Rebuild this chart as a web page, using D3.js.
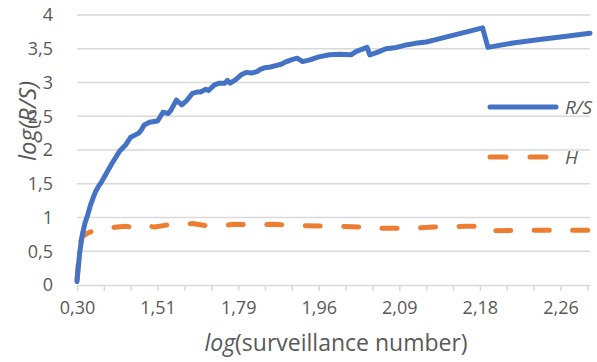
<!DOCTYPE html>
<html lang="en">
<head>
<meta charset="utf-8">
<title>log(R/S) vs log(surveillance number)</title>
<script src="https://cdn.jsdelivr.net/npm/d3@7"></script>
<style>
  body { margin: 0; background: #fff; }
  text { font-family: "Open Sans", "Liberation Sans", sans-serif; fill: #595959; }
</style>
</head>
<body>
<script>
/* categories are surveillance numbers; the x axis shows log10 of them */
var firstN = 2, lastN = 193;
var tickN = [2, 12, 22, 32, 42, 52, 62, 72, 82, 92, 102, 112, 122, 132, 142, 152, 162, 172, 182, 192];
var xLabelN = [2, 32, 62, 92, 122, 152, 182];
var xLabels = ["0,30", "1,51", "1,79", "1,96", "2,09", "2,18", "2,26"];
var yTicks = [0, 0.5, 1, 1.5, 2, 2.5, 3, 3.5, 4];
var yLabels = ["0", "0,5", "1", "1,5", "2", "2,5", "3", "3,5", "4"];

/* R/S series */
var rsN = [2, 3, 4, 5, 6, 7, 8, 9, 10, 11, 13, 15, 18, 20, 22, 25, 26, 27, 29, 32, 34, 36, 37, 39,
           41, 43, 45, 47, 48, 50, 51, 53, 55, 57, 58, 59, 61, 63, 65, 67, 69, 70, 72, 74,
           76, 78, 80, 82, 84, 86, 89, 92, 96, 100, 104, 106, 110, 111, 114, 117, 121, 125, 128, 132,
           136, 140, 146, 153, 155, 165, 175, 185, 193];
var rsVal = [0.05, 0.48, 0.75, 0.92, 1.04, 1.18, 1.29, 1.39, 1.46, 1.52, 1.66, 1.80, 1.99, 2.07, 2.19, 2.25, 2.30, 2.37, 2.41, 2.43, 2.56, 2.54, 2.59, 2.74,
             2.67, 2.74, 2.84, 2.86, 2.86, 2.90, 2.88, 2.96, 2.99, 2.99, 3.03, 2.99, 3.04, 3.11, 3.15, 3.14, 3.16, 3.19, 3.22, 3.23,
             3.25, 3.27, 3.31, 3.34, 3.36, 3.31, 3.34, 3.38, 3.41, 3.42, 3.41, 3.46, 3.52, 3.41, 3.45, 3.50, 3.52, 3.56, 3.58, 3.60,
             3.64, 3.68, 3.74, 3.81, 3.52, 3.59, 3.64, 3.69, 3.73];

/* H series */
var hN = [2, 3, 4, 6, 8, 10, 17, 20, 22, 24, 31, 34, 37, 45, 50, 55, 60, 70, 75, 85,
          100, 107, 111, 115, 125, 135, 147, 153, 155, 165, 193];
var hVal = [0.08, 0.60, 0.72, 0.77, 0.80, 0.82, 0.86, 0.87, 0.86, 0.89, 0.86, 0.88, 0.90, 0.91, 0.88, 0.87, 0.90, 0.89, 0.90, 0.88,
            0.87, 0.86, 0.83, 0.84, 0.84, 0.86, 0.87, 0.87, 0.80, 0.81, 0.81];

var seriesNames = ["R/S", "H"];
var colors = ["#4472C4", "#ED7D31"];

var W = 597, H = 362;
var margin = {top: 15, right: 7, bottom: 77, left: 77};
var width = W - margin.left - margin.right;
var height = H - margin.top - margin.bottom;

var svg = d3.select("body").append("svg")
    .attr("width", W)
    .attr("height", H);

var g = svg.append("g")
    .attr("transform", "translate(" + margin.left + "," + margin.top + ")");

var x = d3.scaleLinear().domain([firstN, lastN]).range([0, width]);
var y = d3.scaleLinear().domain([0, 4]).range([height, 0]);

/* gridlines */
g.append("g")
    .selectAll("line")
    .data(yTicks.slice(1))
    .enter().append("line")
    .attr("x1", 0).attr("x2", width)
    .attr("y1", function(d) { return y(d); })
    .attr("y2", function(d) { return y(d); })
    .attr("stroke", "#D9D9D9")
    .attr("stroke-width", 1.5);

/* y axis: labels only */
var yAxis = d3.axisLeft(y)
    .tickValues(yTicks)
    .tickSize(0)
    .tickPadding(24)
    .tickFormat(function(d, i) { return yLabels[i]; });
var yg = g.append("g").call(yAxis);
yg.select(".domain").remove();
yg.selectAll("text")
    .style("font-size", "18px")
    .attr("fill", "#595959");

/* x axis: a tick every 10 categories, a label every 30 */
var xAxis = d3.axisBottom(x)
    .tickValues(tickN)
    .tickSize(6)
    .tickSizeOuter(0)
    .tickPadding(10)
    .tickFormat(function(d) {
        var k = xLabelN.indexOf(d);
        return k < 0 ? "" : xLabels[k];
    });
var xg = g.append("g")
    .attr("transform", "translate(0," + height + ")")
    .call(xAxis);
xg.select(".domain").attr("stroke", "#D9D9D9").attr("stroke-width", 1.5);
xg.selectAll(".tick line").attr("stroke", "#D9D9D9").attr("stroke-width", 1.5);
xg.selectAll("text")
    .style("font-size", "18px")
    .attr("fill", "#595959");

/* lines */
var line = d3.line()
    .x(function(d) { return x(d[0]); })
    .y(function(d) { return y(d[1]); });

var rsData = rsN.map(function(n, i) { return [n, rsVal[i]]; });
var hData = hN.map(function(n, i) { return [n, hVal[i]]; });

g.append("path")
    .datum(hData)
    .attr("d", line)
    .attr("fill", "none")
    .attr("stroke", colors[1])
    .attr("stroke-width", 5)
    .attr("stroke-linecap", "round")
    .attr("stroke-linejoin", "round")
    .attr("stroke-dasharray", "15,23.5");

g.append("path")
    .datum(rsData)
    .attr("d", line)
    .attr("fill", "none")
    .attr("stroke", colors[0])
    .attr("stroke-width", 5)
    .attr("stroke-linecap", "round")
    .attr("stroke-linejoin", "round");

/* legend, sitting inside the plot on the right */
var legend = svg.append("g");
var legY = [107, 157];
legend.selectAll("line")
    .data(seriesNames)
    .enter().append("line")
    .attr("x1", 490).attr("x2", 556)
    .attr("y1", function(d, i) { return legY[i]; })
    .attr("y2", function(d, i) { return legY[i]; })
    .attr("stroke", function(d, i) { return colors[i]; })
    .attr("stroke-width", 5)
    .attr("stroke-linecap", "round")
    .attr("stroke-dasharray", function(d, i) { return i == 1 ? "16,24" : null; });
legend.selectAll("text")
    .data(seriesNames)
    .enter().append("text")
    .attr("x", 565)
    .attr("y", function(d, i) { return legY[i] + 7; })
    .style("font-size", "19px")
    .style("font-style", "italic")
    .text(function(d) { return d; });

/* axis titles */
var xt = svg.append("text")
    .attr("x", 336)
    .attr("y", 351)
    .attr("text-anchor", "middle")
    .style("font-size", "23px");
xt.append("tspan").style("font-style", "italic").text("log");
xt.append("tspan").text("(surveillance number)");

svg.append("text")
    .attr("transform", "translate(36,121) rotate(-90)")
    .attr("text-anchor", "middle")
    .style("font-size", "24px")
    .style("font-style", "italic")
    .text("log(R/S)");
</script>
</body>
</html>
